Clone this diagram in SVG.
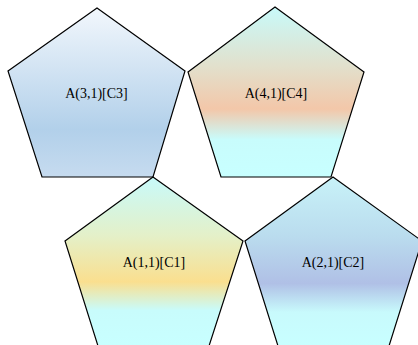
<svg xmlns="http://www.w3.org/2000/svg" width="418" height="345" viewBox="0 0 418 345">
<defs>
<linearGradient id="g3" x1="0" y1="0" x2="0" y2="1">
<stop offset="0" stop-color="#f2f7fc"/>
<stop offset="0.72" stop-color="#b2d0ea"/>
<stop offset="1" stop-color="#c6dbef"/>
</linearGradient>
<linearGradient id="g4" x1="0" y1="0" x2="0" y2="1">
<stop offset="0" stop-color="#c8fafa"/>
<stop offset="0.35" stop-color="#e2e0cc"/>
<stop offset="0.6" stop-color="#f3c7a9"/>
<stop offset="0.78" stop-color="#c8fcfc"/>
<stop offset="1" stop-color="#c8ffff"/>
</linearGradient>
<linearGradient id="g1" x1="0" y1="0" x2="0" y2="1">
<stop offset="0" stop-color="#c8fafa"/>
<stop offset="0.35" stop-color="#e4f0c8"/>
<stop offset="0.62" stop-color="#fadf8f"/>
<stop offset="0.79" stop-color="#c8fcfc"/>
<stop offset="1" stop-color="#c8ffff"/>
</linearGradient>
<linearGradient id="g2" x1="0" y1="0" x2="0" y2="1">
<stop offset="0" stop-color="#c8f2f8"/>
<stop offset="0.35" stop-color="#badcee"/>
<stop offset="0.63" stop-color="#b0c0e6"/>
<stop offset="0.8" stop-color="#c8fafc"/>
<stop offset="1" stop-color="#c8ffff"/>
</linearGradient>
</defs>
<style>
.p{stroke:#000;stroke-width:1.2;stroke-linejoin:miter}
.t{font-family:"Liberation Serif","Times New Roman",serif;font-size:14px;fill:#000;text-anchor:middle}
</style>
<g id="A31">
<polygon class="p" fill="url(#g3)" points="97,8 185,71 153,177 42,177 8,71"/>
<text class="t" x="96.5" y="98">A(3,1)[C3]</text>
</g>
<g id="A41">
<polygon class="p" fill="url(#g4)" points="275,7 364,72 331,177 221,177 188,72"/>
<text class="t" x="276" y="98">A(4,1)[C4]</text>
</g>
<g id="A11">
<polygon class="p" fill="url(#g1)" points="153,177 243,241 209,346 98,346 65,241"/>
<text class="t" x="154" y="267">A(1,1)[C1]</text>
</g>
<g id="A21">
<polygon class="p" fill="url(#g2)" points="333,177 422,241 389,346 278,346 245,241"/>
<text class="t" x="333" y="267">A(2,1)[C2]</text>
</g>
<g id="connectors"/>
</svg>
